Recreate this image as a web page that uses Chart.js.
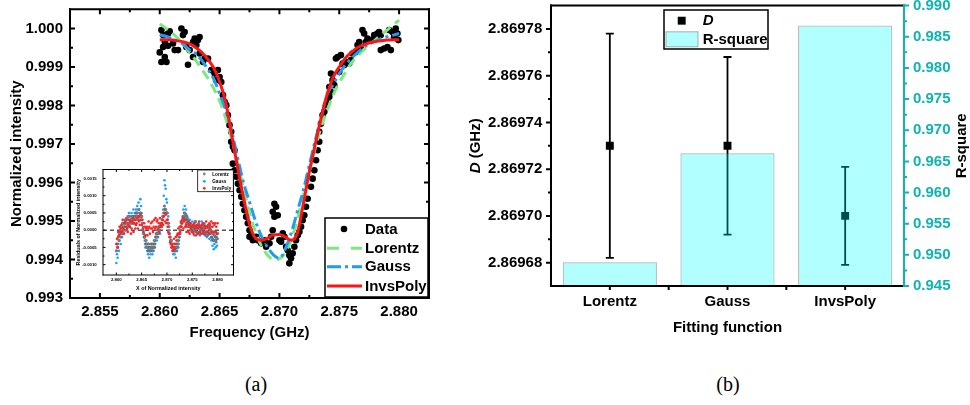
<!DOCTYPE html>
<html>
<head>
<meta charset="utf-8">
<script src="https://cdn.jsdelivr.net/npm/chart.js@4.4.1/dist/chart.umd.min.js"></script>
<style>
    html, body { margin: 0; padding: 0; background: #fff; }
    #wrap { position: relative; width: 970px; height: 405px; overflow: hidden; }
    .pane { position: absolute; }
    .cap { position: absolute; font-family: 'Liberation Serif', 'Times New Roman', serif; font-size: 20px; transform: translate(-50%, -50%); }
</style>
</head>
<body>
<div id="wrap">
    <canvas class="pane" id="specChart" width="460" height="345" style="left:0;top:0"></canvas>
    <canvas class="pane" id="residChart" width="170" height="140" style="left:70px;top:160px"></canvas>
    <canvas class="pane" id="fitChart" width="510" height="345" style="left:460px;top:0"></canvas>
    <div class="cap" style="left:256px;top:384px">(a)</div>
    <div class="cap" style="left:728px;top:384px">(b)</div>
</div>
<script>
// ---------- panel (a): measured spectrum ----------
const freqData = [
    2.86000, 2.86014, 2.86014, 2.86028, 2.86028, 2.86042, 2.86042, 2.86056, 2.86069, 2.86069,
    2.86083, 2.86111, 2.86125, 2.86153, 2.86181, 2.86194, 2.86208, 2.86222, 2.86236, 2.86250,
    2.86278, 2.86278, 2.86292, 2.86306, 2.86319, 2.86333, 2.86333, 2.86361, 2.86375, 2.86403,
    2.86431, 2.86458, 2.86472, 2.86486, 2.86500, 2.86514, 2.86528, 2.86542, 2.86556, 2.86569,
    2.86583, 2.86597, 2.86597, 2.86611, 2.86611, 2.86625, 2.86625, 2.86639, 2.86653, 2.86667,
    2.86681, 2.86694, 2.86708, 2.86722, 2.86736, 2.86750, 2.86750, 2.86764, 2.86778, 2.86792,
    2.86806, 2.86819, 2.86847, 2.86875, 2.86889, 2.86917, 2.86931, 2.86944, 2.86944, 2.86958,
    2.86958, 2.86972, 2.86986, 2.87000, 2.87014, 2.87028, 2.87042, 2.87056, 2.87069, 2.87083,
    2.87083, 2.87097, 2.87111, 2.87125, 2.87139, 2.87153, 2.87167, 2.87181, 2.87194, 2.87208,
    2.87222, 2.87236, 2.87264, 2.87278, 2.87292, 2.87306, 2.87319, 2.87333, 2.87333, 2.87347,
    2.87361, 2.87375, 2.87389, 2.87403, 2.87417, 2.87417, 2.87431, 2.87431, 2.87444, 2.87458,
    2.87472, 2.87486, 2.87500, 2.87514, 2.87528, 2.87542, 2.87556, 2.87583, 2.87597, 2.87611,
    2.87639, 2.87653, 2.87667, 2.87681, 2.87694, 2.87708, 2.87722, 2.87736, 2.87764, 2.87792,
    2.87806, 2.87819, 2.87833, 2.87847, 2.87847, 2.87875, 2.87903, 2.87917, 2.87931, 2.87944,
    2.87958, 2.87972, 2.87986, 2.87994
];
const intensityData = [
    0.99938, 0.99996, 0.99913, 0.99983, 0.99952, 0.99965, 0.99926, 0.99913, 0.99987, 0.99955,
    0.99993, 0.99961, 0.99944, 0.99944, 1.00000, 0.99983, 0.99991, 0.99952, 0.99906, 0.99944,
    0.99965, 0.99926, 0.99974, 0.99957, 0.99970, 0.99978, 0.99935, 0.99913, 0.99922, 0.99922,
    0.99892, 0.99883, 0.99866, 0.99892, 0.99874, 0.99861, 0.99827, 0.99810, 0.99801, 0.99775,
    0.99749, 0.99732, 0.99706, 0.99693, 0.99649, 0.99684, 0.99632, 0.99615, 0.99597, 0.99580,
    0.99563, 0.99545, 0.99528, 0.99511, 0.99494, 0.99476, 0.99459, 0.99463, 0.99450, 0.99455,
    0.99459, 0.99450, 0.99442, 0.99450, 0.99433, 0.99442, 0.99459, 0.99476, 0.99524, 0.99545,
    0.99511, 0.99537, 0.99515, 0.99450, 0.99446, 0.99468, 0.99459, 0.99433, 0.99424, 0.99411,
    0.99390, 0.99403, 0.99416, 0.99433, 0.99450, 0.99463, 0.99472, 0.99485, 0.99502, 0.99515,
    0.99537, 0.99558, 0.99589, 0.99610, 0.99632, 0.99658, 0.99684, 0.99706, 0.99732, 0.99753,
    0.99775, 0.99784, 0.99801, 0.99810, 0.99823, 0.99848, 0.99835, 0.99883, 0.99866, 0.99853,
    0.99922, 0.99926, 0.99887, 0.99931, 0.99909, 0.99905, 0.99913, 0.99909, 0.99918, 0.99935,
    0.99939, 0.99957, 0.99965, 0.99948, 0.99996, 0.99987, 0.99965, 0.99974, 0.99970, 0.99983,
    0.99974, 0.99987, 0.99991, 0.99983, 0.99944, 0.99948, 0.99952, 0.99996, 0.99944, 0.99991,
    0.99978, 1.00000, 0.99987, 0.99970
];

// fitted curves, sampled every 0.5 MHz
const fitFreq = [
    2.8600, 2.8605, 2.8610, 2.8615, 2.8620, 2.8625, 2.8630, 2.8635, 2.8640, 2.8645,
    2.8650, 2.8655, 2.8660, 2.8665, 2.8670, 2.8675, 2.8680, 2.8685, 2.8690, 2.8695,
    2.8700, 2.8705, 2.8710, 2.8715, 2.8720, 2.8725, 2.8730, 2.8735, 2.8740, 2.8745,
    2.8750, 2.8755, 2.8760, 2.8765, 2.8770, 2.8775, 2.8780, 2.8785, 2.8790, 2.8795,
    2.8800
];
const lorentzFit = [
    1.00012, 1.00001, 0.99989, 0.99975, 0.99958, 0.99938, 0.99918, 0.99895, 0.99872, 0.99845,
    0.99812, 0.99768, 0.99715, 0.99652, 0.99585, 0.99522, 0.99472, 0.99435, 0.99412, 0.99400,
    0.99402, 0.99418, 0.99452, 0.99505, 0.99568, 0.99630, 0.99690, 0.99745, 0.99788, 0.99828,
    0.99860, 0.99885, 0.99910, 0.99928, 0.99944, 0.99957, 0.99970, 0.99984, 0.99996, 1.00009,
    1.00022
];
const gaussFit = [
    0.99984, 0.99980, 0.99974, 0.99967, 0.99958, 0.99945, 0.99935, 0.99918, 0.99895, 0.99870,
    0.99831, 0.99790, 0.99735, 0.99665, 0.99600, 0.99550, 0.99500, 0.99460, 0.99432, 0.99412,
    0.99403, 0.99428, 0.99470, 0.99525, 0.99580, 0.99645, 0.99710, 0.99770, 0.99830, 0.99855,
    0.99883, 0.99905, 0.99922, 0.99937, 0.99950, 0.99960, 0.99967, 0.99974, 0.99979, 0.99983,
    0.99987
];
const invsPolyFit = [
    0.99971, 0.99971, 0.99970, 0.99968, 0.99965, 0.99960, 0.99951, 0.99938, 0.99921, 0.99898,
    0.99862, 0.99810, 0.99725, 0.99640, 0.99560, 0.99492, 0.99455, 0.99450, 0.99455, 0.99464,
    0.99465, 0.99458, 0.99450, 0.99468, 0.99545, 0.99628, 0.99700, 0.99770, 0.99830, 0.99874,
    0.99900, 0.99923, 0.99938, 0.99950, 0.99957, 0.99963, 0.99966, 0.99968, 0.99970, 0.99971,
    0.99971
];
const freqTicks = [2.855, 2.860, 2.865, 2.870, 2.875, 2.880];
const intensityTicks = [0.993, 0.994, 0.995, 0.996, 0.997, 0.998, 0.999, 1.000];

// ---------- inset: residuals (one row = 1 MHz) ----------
const residFreq = [
    2.860000, 2.860125, 2.860250, 2.860375, 2.860500, 2.860625, 2.860750, 2.860875,
    2.861000, 2.861125, 2.861250, 2.861375, 2.861500, 2.861625, 2.861750, 2.861875,
    2.862000, 2.862125, 2.862250, 2.862375, 2.862500, 2.862625, 2.862750, 2.862875,
    2.863000, 2.863125, 2.863250, 2.863375, 2.863500, 2.863625, 2.863750, 2.863875,
    2.864000, 2.864125, 2.864250, 2.864375, 2.864500, 2.864625, 2.864750, 2.864875,
    2.865000, 2.865125, 2.865250, 2.865375, 2.865500, 2.865625, 2.865750, 2.865875,
    2.866000, 2.866125, 2.866250, 2.866375, 2.866500, 2.866625, 2.866750, 2.866875,
    2.867000, 2.867125, 2.867250, 2.867375, 2.867500, 2.867625, 2.867750, 2.867875,
    2.868000, 2.868125, 2.868250, 2.868375, 2.868500, 2.868625, 2.868750, 2.868875,
    2.869000, 2.869125, 2.869250, 2.869375, 2.869500, 2.869625, 2.869750, 2.869875,
    2.870000, 2.870125, 2.870250, 2.870375, 2.870500, 2.870625, 2.870750, 2.870875,
    2.871000, 2.871125, 2.871250, 2.871375, 2.871500, 2.871625, 2.871750, 2.871875,
    2.872000, 2.872125, 2.872250, 2.872375, 2.872500, 2.872625, 2.872750, 2.872875,
    2.873000, 2.873125, 2.873250, 2.873375, 2.873500, 2.873625, 2.873750, 2.873875,
    2.874000, 2.874125, 2.874250, 2.874375, 2.874500, 2.874625, 2.874750, 2.874875,
    2.875000, 2.875125, 2.875250, 2.875375, 2.875500, 2.875625, 2.875750, 2.875875,
    2.876000, 2.876125, 2.876250, 2.876375, 2.876500, 2.876625, 2.876750, 2.876875,
    2.877000, 2.877125, 2.877250, 2.877375, 2.877500, 2.877625, 2.877750, 2.877875,
    2.878000, 2.878125, 2.878250, 2.878375, 2.878500, 2.878625, 2.878750, 2.878875,
    2.879000, 2.879125, 2.879250, 2.879375, 2.879500, 2.879625, 2.879750, 2.879875,
    2.880000
];
const lorentzResid = [
    -0.0006, -0.0004, -0.0005, -0.0002, -0.0003, -0.0001, 0.0000, -0.0002,
    0.0001, -0.0001, 0.0002, 0.0000, 0.0001, 0.0002, 0.0000, 0.0003,
    0.0002, 0.0001, 0.0003, 0.0002, 0.0004, 0.0001, 0.0002, 0.0003,
    0.0003, 0.0002, 0.0004, 0.0003, 0.0002, 0.0004, 0.0003, 0.0005,
    0.0004, 0.0005, 0.0003, 0.0006, 0.0004, 0.0003, 0.0005, 0.0004,
    0.0004, 0.0002, 0.0000, -0.0001, -0.0002, -0.0002, -0.0004, -0.0003,
    -0.0004, -0.0005, -0.0006, -0.0004, -0.0006, -0.0005, -0.0006, -0.0004,
    -0.0005, -0.0006, -0.0004, -0.0005, -0.0003, -0.0004, -0.0002, -0.0001,
    -0.0002, 0.0000, -0.0001, 0.0001, 0.0000, 0.0001, 0.0002, 0.0001,
    0.0002, 0.0003, 0.0004, 0.0005, 0.0007, 0.0006, 0.0006, 0.0005,
    0.0005, 0.0003, 0.0002, 0.0001, -0.0001, -0.0002, -0.0003, -0.0003,
    -0.0004, -0.0005, -0.0006, -0.0004, -0.0006, -0.0005, -0.0006, -0.0004,
    -0.0005, -0.0003, -0.0004, -0.0002, -0.0001, 0.0000, 0.0001, 0.0002,
    0.00025, 0.0003, 0.0004, 0.00035, 0.0005, 0.0003, 0.00045, 0.0002,
    0.00035, 0.0002, 0.00025, 0.0001, 0.0002, 0.00015, 0.0000, 0.0001,
    0.00005, -0.00005, 0.00015, 0.0000, 0.0001, 0.00025, -0.00005, 0.0001,
    -0.00005, 0.0001, 0.00015, 0.00005, -0.0001, 0.0001, 0.0000, 0.00015,
    0.0001, -0.00005, 0.00005, 0.00015, -0.0001, 0.0001, -0.00005, -0.00015,
    0.0001, -0.00005, 0.00005, -0.0001, 0.00015, 0.0000, -0.0002, -0.00005,
    -0.00025, -0.0001, -0.0003, -0.00015, -0.00005, -0.0003, -0.0002, -0.00025,
    -0.0001
];
const gaussResid = [
    -0.00095, -0.0007, -0.0008, -0.0004, -0.0006, -0.0003, -0.0001, -0.0004,
    0.0001, -0.0002, 0.0002, 0.0000, -0.0001, 0.0003, 0.0001, 0.0002,
    0.0003, 0.0000, 0.0004, 0.0002, 0.0005, 0.0001, 0.0003, 0.0004,
    0.0005, 0.0002, 0.0004, 0.0006, 0.0003, 0.0005, 0.0004, 0.0006,
    0.0005, 0.0007, 0.0004, 0.0008, 0.0006, 0.0005, 0.0009, 0.0007,
    0.0005, 0.0003, 0.0001, -0.0001, -0.0002, -0.0003, -0.0005, -0.0004,
    -0.0005, -0.0006, -0.0007, -0.0005, -0.0008, -0.0006, -0.0007, -0.0005,
    -0.0006, -0.0007, -0.0005, -0.0006, -0.0004, -0.0005, -0.0003, -0.0002,
    -0.0003, -0.0001, -0.0002, 0.0000, 0.0001, -0.0001, 0.0002, 0.0001,
    0.0003, 0.0004, 0.0006, 0.0010, 0.00145, 0.0013, 0.0012, 0.0009,
    0.0008, 0.0005, 0.0004, 0.0002, 0.0000, -0.0002, -0.0003, -0.0004,
    -0.0005, -0.0006, -0.0007, -0.0005, -0.0007, -0.0006, -0.0008, -0.0005,
    -0.0006, -0.0004, -0.0005, -0.0003, -0.0002, -0.0001, 0.0001, 0.0002,
    0.0003, 0.0004, 0.0006, 0.0005, 0.0007, 0.0004, 0.0006, 0.0003,
    0.0004, 0.0002, 0.0003, 0.0001, 0.0003, 0.0002, 0.0001, 0.0000,
    0.00025, -0.00005, 0.0001, -0.00015, 0.0001, 0.00025, 0.00005, 0.00015,
    -0.0001, 0.00015, 0.0002, -0.00005, -0.00015, 0.0001, 0.00005, 0.00025,
    0.00015, -0.0001, 0.00005, 0.0002, -0.00015, 0.0001, -0.00005, -0.0002,
    0.0001, -0.00015, 0.00005, -0.00025, 0.00015, -0.0001, -0.0003, -0.0002,
    -0.00045, -0.0003, -0.00055, -0.0004, -0.0002, -0.0005, -0.00035, -0.00045,
    -0.00025
];
const invsPolyResid = [
    -0.0004, -0.00025, -0.0005, -0.00005, -0.00015, 0.0001, -0.00005, 0.00005,
    0.00015, -0.00005, 0.0003, 0.00005, -0.0001, 0.0002, 0.00025, 0.0001,
    0.00035, 0.00005, -0.00005, 0.00015, 0.0003, 0.0001, 0.00025, -0.0001,
    0.00005, 0.00025, 0.00035, -0.00005, 0.0002, 0.0003, 0.00005, 0.00015,
    0.0002, 0.00035, 0.00005, 0.0004, 0.00025, 0.00015, 0.00045, 0.0003,
    0.00015, 0.0003, 0.00005, -0.00005, 0.0002, 0.0001, -0.00015, 0.00005,
    0.0001, -0.00015, 0.00005, 0.00025, 0.0001, -0.0001, 0.00005, 0.0002,
    0.00005, 0.00025, -0.00005, 0.0001, 0.0003, 0.00005, 0.00035, 0.0001,
    0.00025, 0.0003, 0.00005, 0.0002, -0.00005, 0.00035, 0.00015, 0.0001,
    0.0002, 0.0003, 0.00015, 0.0004, 0.0005, 0.00025, 0.00045, 0.0002,
    0.0003, 0.0001, -0.00005, -0.0001, -0.0002, -0.00035, -0.0004, -0.0005,
    -0.00045, -0.0006, -0.0005, -0.00025, -0.00055, -0.0004, -0.0002, -0.0003,
    -0.00015, -0.0001, 0.00005, -0.0001, 0.0001, -0.00005, 0.00025, 0.0001,
    0.0002, 0.00035, 0.00005, 0.00025, 0.0003, 0.0001, 0.00015, -0.00005,
    0.0001, 0.00025, -0.00005, 0.00015, -0.0001, 0.0002, 0.00005, 0.0001,
    -0.00005, 0.00015, -0.0001, 0.0002, 0.00005, 0.0001, -0.00015, 0.00015,
    0.00005, -0.0001, 0.00015, 0.00025, -0.00005, 0.0001, -0.0001, 0.00005,
    0.00015, 0.0002, -0.00005, -0.0001, 0.0001, 0.00005, 0.00025, 0.0001,
    -0.00005, 0.00015, -0.0001, 0.0002, 0.00005, 0.0001, 0.00025, -0.00005,
    0.0001, 0.0002, -0.00005, 0.00015, 0.0002, -0.00005, 0.0001, -0.0001,
    0.0002
];
const residFreqTicks = [2.860, 2.865, 2.870, 2.875, 2.880];
const residTicks = [-0.0010, -0.0005, 0.0000, 0.0005, 0.0010, 0.0015];

// ---------- panel (b): fit comparison ----------
const fitNames = ['Lorentz', 'Gauss', 'InvsPoly'];
const dValues = [2.86973, 2.86973, 2.86970];
const dErrors = [0.000048, 0.000038, 0.000021];
const rSquare = [0.9488, 0.9663, 0.9868];
const dTicks = [2.86968, 2.86970, 2.86972, 2.86974, 2.86976, 2.86978];
const rTicks = [0.945, 0.950, 0.955, 0.960, 0.965, 0.970, 0.975, 0.980, 0.985, 0.990];

const TEAL = '#0fb3b3';
const FONT = "'Liberation Sans', Arial, sans-serif";

Chart.defaults.font.family = FONT;
Chart.defaults.font.weight = 'bold';
Chart.defaults.color = '#000';
Chart.defaults.animation = false;
Chart.defaults.plugins.legend.display = false;
Chart.defaults.plugins.tooltip.enabled = false;

function pairs ( xs, ys )
{
    return xs.map( ( x, i ) => ( { x: x, y: ys[ i ] } ) );
}

// pin an axis box to a fixed size so the plot frame lands where we want it
function fixedBox ( size )
{
    return function ( scale )
    {
        if ( scale.isHorizontal() ) scale.height = size;
        else scale.width = size;
        scale.paddingTop = 0;
        scale.paddingBottom = 0;
        scale.paddingLeft = 0;
        scale.paddingRight = 0;
    };
}

function useTicks ( values )
{
    return function ( scale )
    {
        scale.ticks = values.map( v => ( { value: v } ) );
    };
}

// frame around the plot area with Origin-style tick marks
const frameTicks = {
    id: 'frameTicks',
    beforeDatasetsDraw ( chart, args, o )
    {
        const a = chart.chartArea, ctx = chart.ctx;
        if ( o.fill )
        {
            ctx.save();
            ctx.fillStyle = o.fill;
            ctx.fillRect( a.left, a.top, a.right - a.left, a.bottom - a.top );
            ctx.restore();
        }
        if ( o.zeroLine )
        {
            const y = chart.scales.y.getPixelForValue( 0 );
            ctx.save();
            ctx.strokeStyle = '#000';
            ctx.lineWidth = o.zeroLine.width;
            ctx.setLineDash( o.zeroLine.dash );
            ctx.beginPath();
            ctx.moveTo( a.left, y );
            ctx.lineTo( a.right, y );
            ctx.stroke();
            ctx.restore();
        }
    },
    afterDatasetsDraw ( chart, args, o )
    {
        const a = chart.chartArea, ctx = chart.ctx;
        ctx.save();
        ctx.lineWidth = o.width;
        o.sides.forEach( s =>
        {
            const horiz = s.edge === 'top' || s.edge === 'bottom';
            const pos = a[ s.edge ];
            ctx.strokeStyle = s.color || '#000';
            ctx.beginPath();
            if ( horiz )
            {
                ctx.moveTo( a.left - o.width / 2, pos );
                ctx.lineTo( a.right + o.width / 2, pos );
            } else
            {
                ctx.moveTo( pos, a.top - o.width / 2 );
                ctx.lineTo( pos, a.bottom + o.width / 2 );
            }
            if ( s.scale )
            {
                const sc = chart.scales[ s.scale ];
                const majors = sc.ticks.map( t => t.value );
                const inside = ( s.edge === 'bottom' || s.edge === 'right' ) ? -1 : 1;
                const d = s.inward ? inside : -inside;
                const mark = ( v, len ) =>
                {
                    const p = sc.getPixelForValue( v );
                    if ( horiz )
                    {
                        ctx.moveTo( p, pos );
                        ctx.lineTo( p, pos + d * len );
                    } else
                    {
                        ctx.moveTo( pos, p );
                        ctx.lineTo( pos + d * len, p );
                    }
                };
                majors.forEach( v => mark( v, s.major ) );
                for ( let i = 1; i < majors.length; i++ )
                {
                    mark( ( majors[ i - 1 ] + majors[ i ] ) / 2, s.minor );
                }
            }
            ctx.stroke();
        } );
        ctx.restore();
    }
};

// framed legend placed inside the plot, built from the datasets
const boxLegend = {
    id: 'boxLegend',
    afterDraw ( chart, args, o )
    {
        if ( !o.box ) return;
        const ctx = chart.ctx;
        const [ x1, y1, x2, y2 ] = o.box;
        ctx.save();
        ctx.fillStyle = '#fff';
        ctx.fillRect( x1, y1, x2 - x1, y2 - y1 );
        ctx.strokeStyle = '#000';
        ctx.lineWidth = o.frameWidth;
        ctx.strokeRect( x1, y1, x2 - x1, y2 - y1 );
        ctx.beginPath();
        ctx.rect( x1, y1, x2 - x1, y2 - y1 );
        ctx.clip();

        chart.data.datasets.forEach( ( ds, i ) =>
        {
            const y = o.rows[ i ];
            if ( ds.type === 'bar' )
            {
                ctx.fillStyle = ds.backgroundColor;
                ctx.fillRect( o.patch[ 0 ], y - o.patch[ 2 ] / 2, o.patch[ 1 ] - o.patch[ 0 ], o.patch[ 2 ] );
                ctx.strokeStyle = ds.borderColor;
                ctx.lineWidth = 1;
                ctx.strokeRect( o.patch[ 0 ], y - o.patch[ 2 ] / 2, o.patch[ 1 ] - o.patch[ 0 ], o.patch[ 2 ] );
            } else if ( ds.showLine )
            {
                ctx.strokeStyle = ds.borderColor;
                ctx.lineWidth = ds.borderWidth;
                ctx.setLineDash( ds.legendDash || ds.borderDash || [] );
                ctx.beginPath();
                ctx.moveTo( o.line[ 0 ], y );
                ctx.lineTo( o.line[ 1 ], y );
                ctx.stroke();
                ctx.setLineDash( [] );
            } else
            {
                const r = o.symbolRadius || ds.pointRadius;
                ctx.fillStyle = ds.pointBackgroundColor;
                ctx.beginPath();
                if ( ds.pointStyle === 'rect' )
                {
                    const h = r * Math.SQRT1_2;
                    ctx.rect( o.symbolX - h, y - h, 2 * h, 2 * h );
                } else
                {
                    ctx.arc( o.symbolX, y, r, 0, Math.PI * 2 );
                }
                ctx.fill();
            }
            ctx.fillStyle = '#000';
            ctx.textBaseline = 'middle';
            ctx.font = ( ds.italicLabel ? 'italic ' : '' ) + 'bold ' + o.fontSize + 'px ' + FONT;
            ctx.fillText( ds.label, o.textX, y + 0.5 );
        } );
        ctx.restore();
    }
};

// vertical error bars for datasets that carry an "errors" array
const errorBars = {
    id: 'errorBars',
    afterDatasetDraw ( chart, args )
    {
        const ds = chart.data.datasets[ args.index ];
        if ( !ds.errors ) return;
        const ctx = chart.ctx;
        const yScale = chart.scales[ args.meta.yAxisID ];
        ctx.save();
        ctx.strokeStyle = '#000';
        ctx.lineWidth = 1.8;
        args.meta.data.forEach( ( pt, i ) =>
        {
            const top = yScale.getPixelForValue( ds.data[ i ] + ds.errors[ i ] );
            const bot = yScale.getPixelForValue( ds.data[ i ] - ds.errors[ i ] );
            ctx.beginPath();
            ctx.moveTo( pt.x, top );
            ctx.lineTo( pt.x, bot );
            ctx.moveTo( pt.x - 4, top );
            ctx.lineTo( pt.x + 4, top );
            ctx.moveTo( pt.x - 4, bot );
            ctx.lineTo( pt.x + 4, bot );
            ctx.stroke();
        } );
        ctx.restore();
    }
};

// rotated axis titles for panel (b): italic D on the left, R-square on the right
const sideTitles = {
    id: 'sideTitles',
    afterDraw ( chart, args, o )
    {
        const ctx = chart.ctx, a = chart.chartArea;
        const yc = ( a.top + a.bottom ) / 2;
        const italic = 'italic bold 15px ' + FONT, plain = 'bold 15px ' + FONT;
        ctx.save();
        ctx.fillStyle = '#000';
        ctx.textBaseline = 'middle';

        ctx.save();
        ctx.translate( o.leftX, yc );
        ctx.rotate( -Math.PI / 2 );
        ctx.font = italic;
        const w1 = ctx.measureText( 'D' ).width;
        ctx.font = plain;
        const w2 = ctx.measureText( ' (GHz)' ).width;
        const x0 = -( w1 + w2 ) / 2;
        ctx.font = italic;
        ctx.fillText( 'D', x0, 0 );
        ctx.font = plain;
        ctx.fillText( ' (GHz)', x0 + w1, 0 );
        ctx.restore();

        ctx.save();
        ctx.translate( o.rightX, yc );
        ctx.rotate( -Math.PI / 2 );
        ctx.font = plain;
        ctx.textAlign = 'center';
        ctx.fillText( 'R-square', 0, 0 );
        ctx.restore();

        ctx.restore();
    }
};

// ---- panel (a) main plot ----
new Chart( document.getElementById( 'specChart' ), {
    type: 'scatter',
    data: {
        datasets: [
            {
                label: 'Data', data: pairs( freqData, intensityData ),
                pointRadius: 3.3, pointBackgroundColor: '#000', pointBorderWidth: 0, order: 3
            },
            {
                label: 'Lorentz', data: pairs( fitFreq, lorentzFit ), showLine: true,
                borderColor: '#7de87d', borderWidth: 3, borderDash: [ 10, 6 ], legendDash: [ 12, 12 ],
                pointRadius: 0, cubicInterpolationMode: 'monotone', order: 2
            },
            {
                label: 'Gauss', data: pairs( fitFreq, gaussFit ), showLine: true,
                borderColor: '#1f9bf0', borderWidth: 3, borderDash: [ 12, 4, 3, 4 ], legendDash: [ 14, 4, 3, 4 ],
                pointRadius: 0, cubicInterpolationMode: 'monotone', order: 1
            },
            {
                label: 'InvsPoly', data: pairs( fitFreq, invsPolyFit ), showLine: true,
                borderColor: '#ff1414', borderWidth: 3,
                pointRadius: 0, cubicInterpolationMode: 'monotone', order: 0
            }
        ]
    },
    options: {
        responsive: false,
        layout: { padding: { left: 0, top: 9.3, right: 31, bottom: 0 } },
        scales: {
            x: {
                type: 'linear', min: 2.8525, max: 2.8825,
                grid: { display: false, drawTicks: false }, border: { display: false },
                ticks: { font: { size: 15 }, padding: 5, maxRotation: 0, callback: v => v.toFixed( 3 ) },
                afterBuildTicks: useTicks( freqTicks ), afterFit: fixedBox( 47 ),
                title: { display: true, text: 'Frequency (GHz)', font: { size: 15 }, padding: { top: 0, bottom: 3 } }
            },
            y: {
                type: 'linear', min: 0.993, max: 1.0005,
                grid: { display: false, drawTicks: false }, border: { display: false },
                ticks: { font: { size: 15 }, padding: 7, callback: v => v.toFixed( 3 ) },
                afterBuildTicks: useTicks( intensityTicks ), afterFit: fixedBox( 70 ),
                title: { display: true, text: 'Normalized intensity', font: { size: 15 }, padding: { top: 7.5, bottom: 0 } }
            }
        },
        plugins: {
            frameTicks: {
                width: 2,
                sides: [
                    { edge: 'bottom', scale: 'x', inward: true, major: 5, minor: 3 },
                    { edge: 'top', scale: 'x', inward: true, major: 5, minor: 3 },
                    { edge: 'left', scale: 'y', inward: true, major: 5, minor: 3 },
                    { edge: 'right', scale: 'y', inward: true, major: 5, minor: 3 }
                ]
            },
            boxLegend: {
                box: [ 325, 218, 428, 297 ], frameWidth: 1.5, fontSize: 15,
                rows: [ 229, 248.3, 266.7, 286 ], line: [ 327, 362 ], symbolX: 344, textX: 365
            }
        }
    },
    plugins: [ frameTicks, boxLegend ]
} );

// ---- panel (a) inset: residuals ----
new Chart( document.getElementById( 'residChart' ), {
    type: 'scatter',
    data: {
        datasets: [
            {
                label: 'Lorentz', data: pairs( residFreq, lorentzResid ),
                pointRadius: 1.3, pointBackgroundColor: '#858585', pointBorderColor: '#444', pointBorderWidth: 0.4, order: 1
            },
            {
                label: 'Gauss', data: pairs( residFreq, gaussResid ),
                pointRadius: 1.3, pointBackgroundColor: '#1ea0ff', pointBorderWidth: 0, order: 2
            },
            {
                label: 'InvsPoly', data: pairs( residFreq, invsPolyResid ),
                pointRadius: 1.3, pointBackgroundColor: '#ff2222', pointBorderWidth: 0, order: 0
            }
        ]
    },
    options: {
        responsive: false,
        layout: { padding: { left: 0, top: 9.5, right: 6.5, bottom: 0 } },
        scales: {
            x: {
                type: 'linear', min: 2.85736, max: 2.88315,
                grid: { display: false, drawTicks: false }, border: { display: false },
                ticks: { font: { size: 4.3 }, padding: 2.4, maxRotation: 0, callback: v => v.toFixed( 3 ) },
                afterBuildTicks: useTicks( residFreqTicks ), afterFit: fixedBox( 25 ),
                title: { display: true, text: 'X of Normalized intensity', font: { size: 5.4 }, padding: { top: 0, bottom: 7.8 } }
            },
            y: {
                type: 'linear', min: -0.0013, max: 0.00176,
                grid: { display: false, drawTicks: false }, border: { display: false },
                ticks: { font: { size: 4.3 }, padding: 6.3, callback: v => v.toFixed( 4 ) },
                afterBuildTicks: useTicks( residTicks ), afterFit: fixedBox( 33 ),
                title: { display: true, text: 'Residuals of Normalized intensity', font: { size: 5.4 }, padding: { top: 4.8, bottom: 0 } }
            }
        },
        plugins: {
            frameTicks: {
                width: 1, fill: '#fff', zeroLine: { width: 1, dash: [ 4, 3 ] },
                sides: [
                    { edge: 'bottom', scale: 'x', inward: true, major: 2.5, minor: 1.5 },
                    { edge: 'top', scale: 'x', inward: true, major: 2.5, minor: 1.5 },
                    { edge: 'left', scale: 'y', inward: true, major: 2.5, minor: 1.5 },
                    { edge: 'right', scale: 'y', inward: true, major: 2.5, minor: 1.5 }
                ]
            },
            boxLegend: {
                box: [ 127.7, 10, 163.3, 31.7 ], frameWidth: 0.8, fontSize: 4.6, symbolRadius: 1.4,
                rows: [ 14, 21.3, 28.3 ], symbolX: 134.3, textX: 142.3
            }
        }
    },
    plugins: [ frameTicks, boxLegend ]
} );

// ---- panel (b): D with error bars and R-square bars ----
new Chart( document.getElementById( 'fitChart' ), {
    type: 'bar',
    data: {
        labels: fitNames,
        datasets: [
            {
                type: 'line', label: 'D', data: dValues, errors: dErrors, yAxisID: 'y', italicLabel: true,
                showLine: false, pointStyle: 'rect', pointRadius: 5.6,
                pointBackgroundColor: '#000', pointBorderWidth: 0, order: 1
            },
            {
                type: 'bar', label: 'R-square', data: rSquare, yAxisID: 'y2',
                backgroundColor: 'rgba(0,255,255,0.3)', borderColor: 'rgba(110,110,110,0.55)', borderWidth: 1,
                categoryPercentage: 0.8, barPercentage: 1, order: 0
            }
        ]
    },
    options: {
        responsive: false,
        layout: { padding: { left: 0, top: 4, right: 0, bottom: 0 } },
        scales: {
            x: {
                offset: true,
                grid: { display: false, drawTicks: false }, border: { display: false },
                ticks: { font: { size: 15 }, padding: 6.7, maxRotation: 0 },
                afterFit: fixedBox( 59 ),
                title: { display: true, text: 'Fitting function', font: { size: 15 }, padding: { top: 0, bottom: 7.7 } }
            },
            y: {
                type: 'linear', position: 'left', min: 2.86967, max: 2.86979,
                grid: { display: false, drawTicks: false }, border: { display: false },
                ticks: { font: { size: 15 }, padding: 8.7, callback: v => v.toFixed( 5 ) },
                afterBuildTicks: useTicks( dTicks ), afterFit: fixedBox( 91 )
            },
            y2: {
                type: 'linear', position: 'right', min: 0.945, max: 0.990,
                grid: { display: false, drawTicks: false }, border: { display: false },
                ticks: { font: { size: 15 }, padding: 9, color: TEAL, callback: v => v.toFixed( 3 ) },
                afterBuildTicks: useTicks( rTicks ), afterFit: fixedBox( 66 )
            }
        },
        plugins: {
            frameTicks: {
                width: 2,
                sides: [
                    { edge: 'top' },
                    { edge: 'bottom', scale: 'x', inward: false, major: 4, minor: 4 },
                    { edge: 'left', scale: 'y', inward: false, major: 5, minor: 3 },
                    { edge: 'right', scale: 'y2', inward: false, major: 5, minor: 3, color: TEAL }
                ]
            },
            boxLegend: {
                box: [ 204, 10, 308, 49 ], frameWidth: 1.5, fontSize: 15,
                rows: [ 20.7, 39.3 ], symbolX: 221.7, textX: 242.7, patch: [ 206, 238, 15 ]
            },
            sideTitles: { leftX: 16, rightX: 502 }
        }
    },
    plugins: [ frameTicks, errorBars, boxLegend, sideTitles ]
} );
</script>
</body>
</html>
